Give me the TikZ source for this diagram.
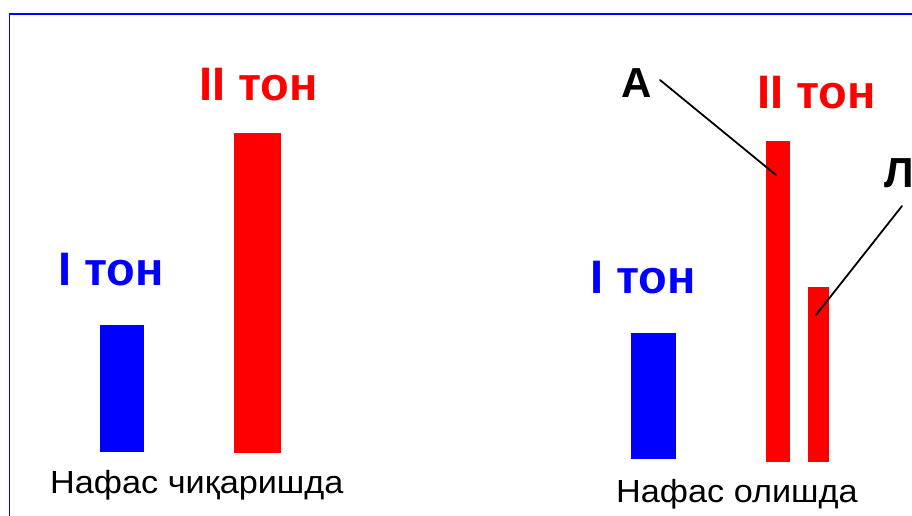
\documentclass[tikz,border=0pt]{standalone}
\usepackage{fontspec}
\setmainfont{Liberation Sans}
\definecolor{pureblue}{RGB}{0,0,255}
\definecolor{purered}{RGB}{255,0,0}
\begin{document}
\begin{tikzpicture}[x=1pt,y=-1pt,
  bluebar/.style={fill=pureblue,draw=none},
  redbar/.style={fill=purered,draw=none},
  tonlabel/.style={inner sep=0pt,anchor=base west,font=\fontsize{47}{47}\selectfont\bfseries},
  letterlabel/.style={inner sep=0pt,anchor=base west,font=\fontsize{42}{42}\selectfont\bfseries},
  caption/.style={inner sep=0pt,anchor=base west,xscale=1.07,font=\fontsize{32}{32}\selectfont},
  pointer/.style={draw=black,line width=1.8pt,line cap=round}]
\useasboundingbox (0,0) rectangle (912,516);
\fill[white] (0,0) rectangle (912,516);
% frame
\draw[pureblue,line width=1.5pt] (9.5,516) -- (9.5,14) -- (912,14);
% left group
\fill[bluebar] (100,325) rectangle (144,452);
\fill[redbar] (234,133) rectangle (281,453);
\node[tonlabel,text=pureblue] (l1) at (58,285) {I тон};
\node[tonlabel,text=purered] (l2) at (199,101) {II тон};
\node[caption] (c1) at (50,493) {Нафас чиқаришда};
% right group
\fill[bluebar] (631,333) rectangle (676,459);
\fill[redbar] (766,141) rectangle (790,462);
\fill[redbar] (808,287) rectangle (829,462);
\coordinate (barA) at (776,175);
\coordinate (barL) at (816,315);
\node[tonlabel,text=pureblue] (r1) at (590,293) {I тон};
\node[tonlabel,text=purered] (r2) at (757,109) {II тон};
\node[letterlabel] (A) at (621,98) {А};
\node[letterlabel] (L) at (884,187) {Л};
\node[caption] (c2) at (616,502) {Нафас олишда};
\coordinate (Astart) at (660,80);
\coordinate (Lstart) at (902,206);
\draw[pointer] (Astart) -- (barA);
\draw[pointer] (Lstart) -- (barL);
\end{tikzpicture}
\end{document}
